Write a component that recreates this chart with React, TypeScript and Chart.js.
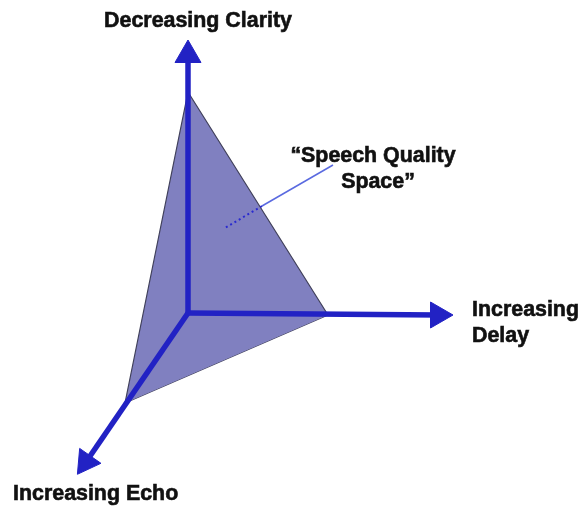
import React, { useEffect, useRef } from "react";
import { Chart, registerables } from "chart.js";

Chart.register(...registerables);

// Diagram coordinate frame (x right, y down), same units as the image
const axisUp = [{ x: 188, y: 313 }, { x: 188, y: 55 }];
const axisRight = [{ x: 188, y: 313 }, { x: 438, y: 315 }];
const axisEcho = [{ x: 188, y: 313 }, { x: 86, y: 462 }];
const arrowRotations = [0, 90, 215];

const triangleUpper = [{ x: 125, y: 403 }, { x: 188, y: 92 }, { x: 328, y: 315 }];
const triangleLower = [{ x: 125, y: 403 }, { x: 328, y: 315 }];

const leaderSolid = [{ x: 333, y: 165 }, { x: 262, y: 206 }];
const leaderDotted = [{ x: 262, y: 206 }, { x: 225, y: 228 }];

const labelTexts = ["Decreasing Clarity", "Increasing", "Delay", "Increasing Echo", "\u201cSpeech Quality", "Space\u201d"];
const labelX = [198, 472, 472, 13, 373, 378];
const labelY = [27, 316, 342, 500, 162, 188];
const labelAlign = ["center", "left", "left", "left", "center", "center"];

const BLUE = "#2222c4";

export default function App() {
  const ref = useRef<HTMLCanvasElement | null>(null);
  useEffect(() => {
    if (!ref.current) return;
    const labelsPlugin = {
      id: "diagramLabels",
      afterDatasetsDraw(chart: any) {
        const { ctx, scales } = chart;
        ctx.save();
        ctx.fillStyle = "#111111";
        ctx.strokeStyle = "#111111";
        ctx.lineWidth = 0.6;
        ctx.font = 'bold 21.4px "Liberation Sans", Arial, sans-serif';
        ctx.textBaseline = "alphabetic";
        labelTexts.forEach((t, i) => {
          ctx.textAlign = labelAlign[i];
          const px = scales.x.getPixelForValue(labelX[i]);
          const py = scales.y.getPixelForValue(labelY[i]);
          ctx.fillText(t, px, py);
          ctx.strokeText(t, px, py);
        });
        ctx.restore();
      },
    };
    const axisDs = (data: any[], rot: number) => ({
      data,
      borderColor: BLUE,
      borderWidth: 5.5,
      backgroundColor: BLUE,
      pointStyle: "triangle",
      pointRadius: [0, 15],
      pointRotation: [0, rot],
      pointBackgroundColor: BLUE,
      pointBorderColor: BLUE,
      pointBorderWidth: 1,
      fill: false,
      tension: 0,
    });
    const chart = new Chart(ref.current, {
      type: "line",
      data: {
        datasets: [
          {
            data: leaderDotted,
            borderColor: "#2a2ad0",
            borderWidth: 2,
            borderDash: [2, 3],
            pointRadius: 0,
            fill: false,
          },
          {
            data: leaderSolid,
            borderColor: "#5a6ae0",
            borderWidth: 1.5,
            pointRadius: 0,
            fill: false,
          },
          axisDs(axisUp, arrowRotations[0]),
          axisDs(axisRight, arrowRotations[1]),
          axisDs(axisEcho, arrowRotations[2]),
          {
            data: triangleUpper,
            borderColor: "#40405a",
            borderWidth: 1.2,
            backgroundColor: "#8080c0",
            pointRadius: 0,
            fill: 6,
            tension: 0,
          },
          {
            data: triangleLower,
            borderColor: "#40405a",
            borderWidth: 1.2,
            pointRadius: 0,
            fill: false,
            tension: 0,
          },
        ],
      } as any,
      options: {
        animation: false,
        responsive: false,
        events: [],
        layout: { padding: 0, autoPadding: false },
        plugins: { legend: { display: false }, tooltip: { enabled: false } },
        scales: {
          x: { type: "linear", min: 0, max: 584, display: false },
          y: { type: "linear", min: 0, max: 506, reverse: true, display: false },
        },
      } as any,
      plugins: [labelsPlugin],
    });
    return () => chart.destroy();
  }, []);
  return (
    <div style={{ position: "absolute", left: 0, top: 0, width: 584, height: 506, background: "#fff" }}>
      <canvas ref={ref} width={584} height={506} style={{ display: "block" }} />
    </div>
  );
}
